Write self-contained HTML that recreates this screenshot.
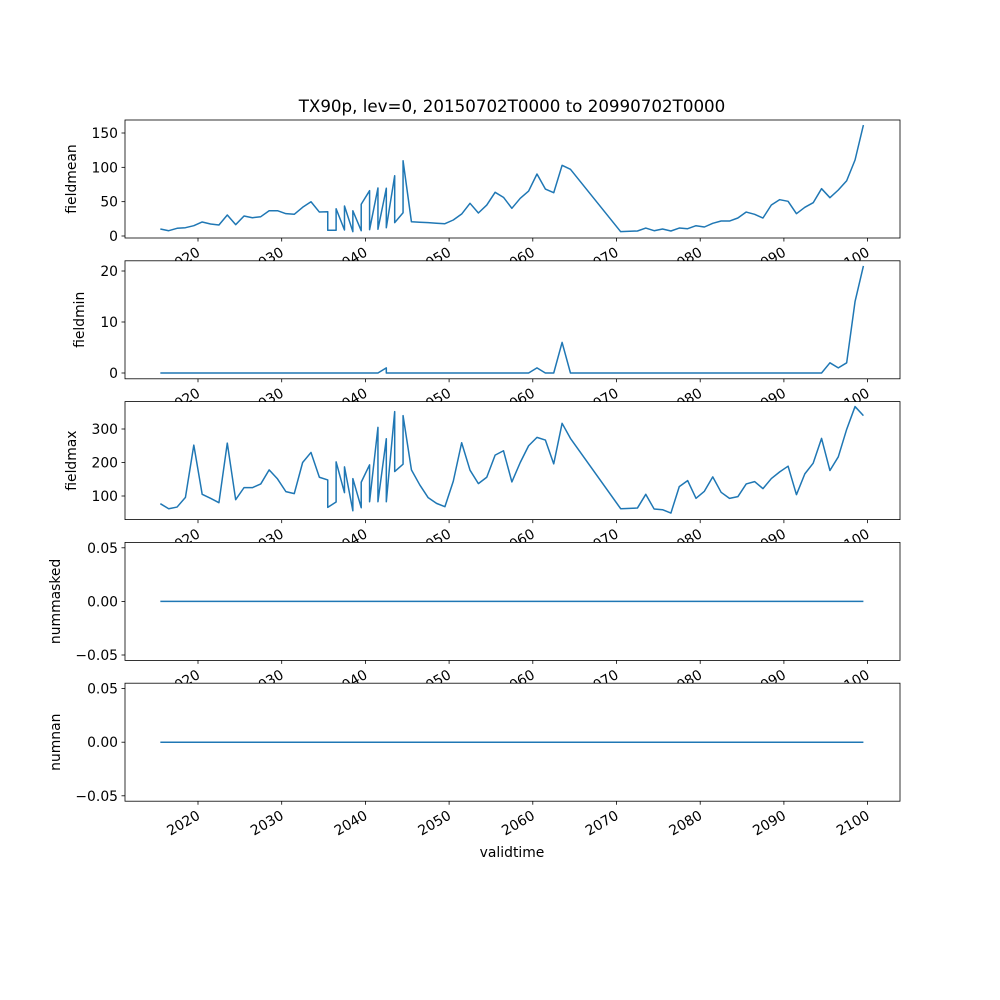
<!DOCTYPE html>
<html><head><meta charset="utf-8"><style>
html,body{margin:0;padding:0;background:#fff;}
svg{display:block;font-family:"DejaVu Sans","Liberation Sans",sans-serif;}
</style></head>
<body>
<svg id="chart" width="1000" height="1000" viewBox="0 0 1000 1000" xmlns="http://www.w3.org/2000/svg">
<rect x="0" y="0" width="1000" height="1000" fill="#fff"/>
<text x="512" y="112" text-anchor="middle" font-size="16.7">TX90p, lev=0, 20150702T0000 to 20990702T0000</text>
<text x="512" y="857" text-anchor="middle" font-size="13.9">validtime</text>
</svg>
<script>
// sample index offsets (year = 2015.5 + index); duplicated indices are repeated times
const idx = [0,1,2,3,4,5,6,7,8,9,10,11,12,13,14,15,16,17,18,19,
  20,20,21,21,22,22,23,23,24,24,25,25,26,26,27,27,28,28,29,29,
  30,31,32,33,34,35,36,37,38,39,40,41,42,43,44,45,46,47,48,49,
  55,57,58,59,60,61,62,63,64,65,66,67,68,69,70,71,72,73,74,75,76,77,78,79,80,81,82,83,84];
const fieldmean = [10.2,7.7,11.2,12.1,15,20.4,17.5,16,30.6,16.5,29.1,26.6,28.1,36.8,36.8,32.5,31.6,41.8,49.9,34.9,
  35.4,8.3,8.3,39.7,8.7,43.7,6.3,36.8,7.7,46.2,66,9.2,69.9,9.8,69.5,12.1,87.8,19.4,33.9,109.6,
  20.8,20.1,19.4,18.6,17.9,23.3,32,47.6,33.5,45.1,63.6,56.3,40.3,54.9,65.5,90.3,68.4,63,102.9,97.1,
  6.3,7.3,11.6,7.7,10.2,7.3,11.6,10.6,15,13.1,18.5,21.8,21.8,26.2,34.9,31.6,26.2,45.1,52.9,50.5,32.5,41.8,48.5,68.9,55.8,67,80.5,110.7,161.6];
const fieldmin = [0,0,0,0,0,0,0,0,0,0,0,0,0,0,0,0,0,0,0,0,
  0,0,0,0,0,0,0,0,0,0,0,0,0,0,1,0,0,0,0,0,
  0,0,0,0,0,0,0,0,0,0,0,0,0,0,0,1,0,0,6,0,
  0,0,0,0,0,0,0,0,0,0,0,0,0,0,0,0,0,0,0,0,0,0,0,0,2,1,2,14,21];
const fieldmax = [77,62,67,96,252,105,93,80,258,89,125,125,136,178,151,113,107,200,230,156,
  148,66,82,202,110,187,56,152,65,141,193,83,305,83,271,83,352,173,195,340,
  178,133,95,78,68,144,259,177,137,156,222,235,142,200,250,275,267,196,317,272,
  62,64,105,61,59,49,128,146,93,114,157,111,93,98,136,143,122,152,172,189,104,166,198,272,176,217,299,367,340];
const nummasked = idx.map(()=>0);
const numnan = idx.map(()=>0);
const xTicks = [2020,2030,2040,2050,2060,2070,2080,2090,2100];
const panelNames = ['fieldmean','fieldmin','fieldmax','nummasked','numnan'];
const panelSeries = [fieldmean, fieldmin, fieldmax, nummasked, numnan];
const yTickVals = [[0,50,100,150],[0,10,20],[100,200,300],[-0.05,0,0.05],[-0.05,0,0.05]];
const yTickLabels = [['0','50','100','150'],['0','10','20'],['100','200','300'],['\u22120.05','0.00','0.05'],['\u22120.05','0.00','0.05']];

const NS='http://www.w3.org/2000/svg';
const svg=document.getElementById('chart');
const L=125,R=900,H=118;
const tops=[120,260.8,401.6,542.4,683.2];
// y mapping per panel: two reference values -> pixel offsets inside panel
const yRef=[[0,116,150,13],[0,112.2,20,10.2],[100,94.4,300,27.4],[-0.05,112.6,0.05,5.4],[-0.05,112.6,0.05,5.4]];
function xS(year){return 198+(year-2020)*8.37;}
function yS(p,v){const r=yRef[p];return tops[p]+r[1]+(v-r[0])*(r[3]-r[1])/(r[2]-r[0]);}
function mk(tag,attrs){const e=document.createElementNS(NS,tag);for(const k in attrs)e.setAttribute(k,attrs[k]);svg.appendChild(e);return e;}
const ylabX=[76,84,76,60,60];
for(let p=0;p<5;p++){
  const t=tops[p];
  const bg=mk('rect',{x:L,y:t,width:R-L,height:H,fill:'#fff'});
  
  
  const pts=idx.map((k,i)=>xS(2015.5+k).toFixed(2)+','+yS(p,panelSeries[p][i]).toFixed(2)).join(' ');
  const line=mk('polyline',{points:pts,fill:'none',stroke:'#1f77b4','stroke-width':1.5,'stroke-linejoin':'round'});
  
  
  const fr=mk('rect',{x:L,y:t,width:R-L,height:H,fill:'none',stroke:'#000','stroke-width':0.8});
  
  
  yTickVals[p].forEach((v,i)=>{
    const y=yS(p,v);
    const tk=mk('line',{x1:L-3.5,x2:L,y1:y,y2:y,stroke:'#000','stroke-width':0.8});
    
    
    const tx=mk('text',{x:L-7,y:y+5,'text-anchor':'end','font-size':13.9});
    tx.textContent=yTickLabels[p][i];
    
    
  });
  const yl=mk('text',{x:ylabX[p],y:t+H/2,'text-anchor':'middle','font-size':13.9,transform:'rotate(-90 '+ylabX[p]+' '+(t+H/2)+')'});
  yl.textContent=panelNames[p];
  
  
  const b=t+H;
  xTicks.forEach(yr=>{
    const x=xS(yr);
    const tk=mk('line',{x1:x,x2:x,y1:b,y2:b+3.5,stroke:'#000','stroke-width':0.8});
    
    
    const tx=mk('text',{x:x+3,y:b+17,'text-anchor':'end','font-size':13.9,transform:'rotate(-30 '+(x+3)+' '+(b+17)+')'});
    tx.textContent=String(yr);
    
    
  });
}
</script>
</body></html>
